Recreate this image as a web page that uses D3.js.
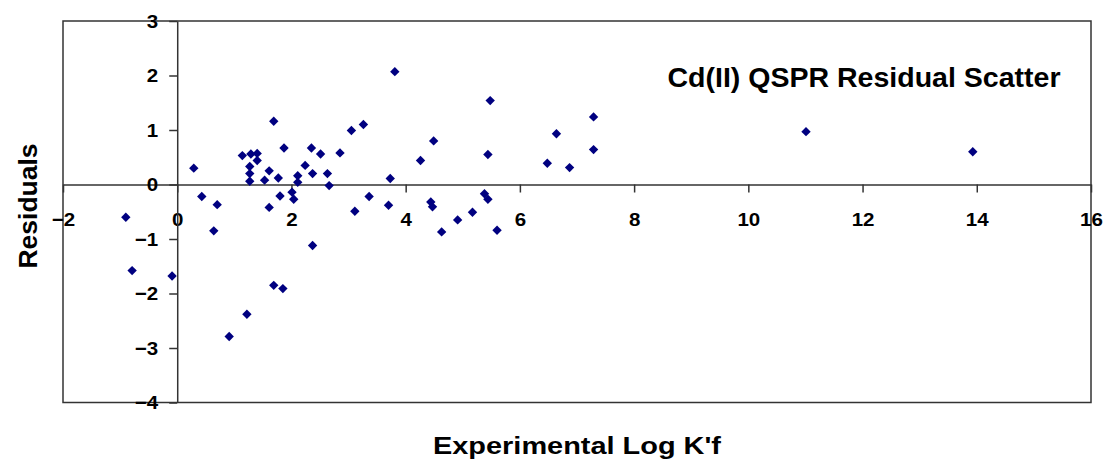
<!DOCTYPE html>
<html>
<head>
<meta charset="utf-8">
<script src="https://cdn.jsdelivr.net/npm/d3@7"></script>
<style>
  html, body { margin: 0; padding: 0; background: #fff; }
  svg { display: block; font-family: "Liberation Sans", Arial, sans-serif; }
</style>
</head>
<body>
<svg id="chart" width="1105" height="463"></svg>
<script>
// Experimental log K'f values and model residuals for the Cd(II) set
const expLogK = [
  -0.90, -0.79, -0.09, 0.29, 0.43, 0.64, 0.70, 0.91, 1.14, 1.22,
  1.27, 1.27, 1.27, 1.29, 1.40, 1.40, 1.53, 1.61, 1.61, 1.69,
  1.69, 1.77, 1.80, 1.85, 1.87, 2.01, 2.04, 2.11, 2.11, 2.24,
  2.35, 2.37, 2.37, 2.51, 2.63, 2.66, 2.85, 3.05, 3.11, 3.26,
  3.36, 3.70, 3.73, 3.81, 4.26, 4.44, 4.47, 4.49, 4.63, 4.91,
  5.17, 5.38, 5.44, 5.44, 5.48, 5.60, 6.48, 6.64, 6.87, 7.29,
  7.29, 11.01, 13.93
];
const residuals = [
  -0.60, -1.58, -1.68, 0.30, -0.22, -0.85, -0.37, -2.79, 0.53, -2.38,
  0.33, 0.20, 0.06, 0.56, 0.57, 0.44, 0.08, 0.25, -0.42, 1.16,
  -1.85, 0.12, -0.21, -1.91, 0.67, -0.14, -0.27, 0.16, 0.04, 0.35,
  0.67, 0.20, -1.12, 0.56, 0.20, -0.02, 0.58, 0.99, -0.49, 1.10,
  -0.22, -0.38, 0.11, 2.07, 0.44, -0.32, -0.41, 0.80, -0.87, -0.65,
  -0.51, -0.17, -0.27, 0.55, 1.54, -0.84, 0.39, 0.93, 0.31, 1.24,
  0.64, 0.97, 0.60
];
const xTicks = [-2, 0, 2, 4, 6, 8, 10, 12, 14, 16];
const yTicks = [-4, -3, -2, -1, 0, 1, 2, 3];

const chartTitle = "Cd(II) QSPR Residual Scatter";
const xTitle = "Experimental Log K'f";
const yTitle = "Residuals";

const svg = d3.select("#chart");
const plot = { left: 63, right: 1091, top: 21, bottom: 402.5 };

const x = d3.scaleLinear().domain([-2, 16]).range([plot.left, plot.right]);
const y = d3.scaleLinear().domain([-4, 3]).range([plot.bottom, plot.top]);

const lineColor = "#333";

// plot-area frame
svg.append("rect")
  .attr("x", plot.left).attr("y", plot.top)
  .attr("width", plot.right - plot.left)
  .attr("height", plot.bottom - plot.top)
  .attr("fill", "none")
  .attr("stroke", lineColor)
  .attr("stroke-width", 1.5);

// horizontal axis crossing at residual = 0
const gx = svg.append("g")
  .attr("transform", `translate(0,${y(0)})`)
  .call(d3.axisBottom(x).tickValues(xTicks).tickFormat(d3.format("d"))
    .tickSize(8).tickSizeOuter(0).tickPadding(20));

// vertical axis crossing at log K'f = 0
const gy = svg.append("g")
  .attr("transform", `translate(${x(0)},0)`)
  .call(d3.axisLeft(y).tickValues(yTicks).tickFormat(d3.format("d"))
    .tickSize(8).tickSizeOuter(0).tickPadding(11));

[gx, gy].forEach(g => {
  g.attr("font-size", null).attr("font-family", null);
  g.select(".domain").attr("stroke", lineColor).attr("stroke-width", 1.5);
  g.selectAll(".tick line").attr("stroke", lineColor).attr("stroke-width", 1.5);
  g.selectAll(".tick text")
    .attr("fill", "#000")
    .style("font-family", "'Liberation Sans', Arial, sans-serif")
    .style("font-size", "19px")
    .style("font-weight", "bold")
    .each(function () {
      // labels are drawn slightly wide
      const w = this.getComputedTextLength();
      d3.select(this).attr("textLength", w * 1.08).attr("lengthAdjust", "spacingAndGlyphs");
    });
});

// data points: navy diamonds
const diamond = d3.symbol().type(d3.symbolSquare).size(44);
svg.append("g")
  .selectAll("path")
  .data(expLogK.map((v, i) => [v, residuals[i]]))
  .join("path")
  .attr("d", diamond)
  .attr("transform", d => `translate(${x(d[0])},${y(d[1])}) rotate(45)`)
  .attr("fill", "#000080");

// chart title inside the plot area
svg.append("text")
  .attr("x", 667.5).attr("y", 86.5)
  .attr("textLength", 393).attr("lengthAdjust", "spacingAndGlyphs")
  .style("font-size", "28px").style("font-weight", "bold")
  .attr("fill", "#000")
  .text(chartTitle);

// axis titles
svg.append("text")
  .attr("x", (plot.left + plot.right) / 2).attr("y", 454)
  .attr("text-anchor", "middle")
  .attr("textLength", 288).attr("lengthAdjust", "spacingAndGlyphs")
  .style("font-size", "23px").style("font-weight", "bold")
  .attr("fill", "#000")
  .text(xTitle);

svg.append("text")
  .attr("transform", "translate(37,206) rotate(-90)")
  .attr("text-anchor", "middle")
  .attr("textLength", 125).attr("lengthAdjust", "spacingAndGlyphs")
  .style("font-size", "25px").style("font-weight", "bold")
  .attr("fill", "#000")
  .text(yTitle);
</script>
</body>
</html>
